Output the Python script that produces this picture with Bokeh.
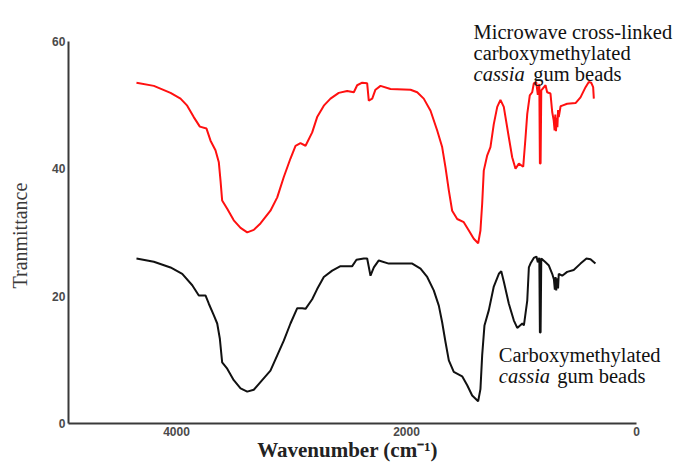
import math
from bokeh.plotting import figure
from bokeh.models import Range1d, Label, FixedTicker
from bokeh.embed import file_html
from bokeh.resources import INLINE

# ---- data ----
wn_red = [4348, 4197, 4052, 3965, 3907, 3850, 3797, 3739, 3704, 3661, 3632, 3617, 3603, 3559,
          3502, 3443, 3385, 3328, 3270, 3183, 3124, 3067, 3009, 2965, 2922, 2878, 2820, 2777,
          2719, 2661, 2589, 2516, 2458, 2429, 2385, 2342, 2328, 2298, 2270, 2226, 2139, 1965,
          1907, 1850, 1791, 1733, 1690, 1661, 1632, 1603, 1559, 1502, 1458, 1415, 1377, 1357,
          1342, 1328, 1298, 1270, 1241, 1211, 1183, 1154, 1110, 1081, 1052, 1023, 985, 965,
          950, 928, 907, 893, 872, 858, 845, 840, 834, 828, 791, 777, 748, 733, 720, 712,
          706, 700, 694, 688, 682, 676, 660, 646, 603, 530, 487, 443, 415, 394, 377, 371]
tr_red = [53.5, 53.0, 51.9, 51.0, 49.9, 48.1, 46.6, 46.3, 44.4, 42.9, 41.0, 38.1, 35.0, 33.7,
          31.9, 30.7, 30.0, 30.4, 31.4, 33.4, 35.5, 38.7, 41.6, 43.6, 44.0, 43.6, 45.7, 48.1,
          49.9, 51.0, 51.9, 52.2, 52.0, 53.1, 53.5, 53.4, 50.7, 51.0, 52.4, 53.0, 52.5, 52.4,
          52.0, 51.0, 49.1, 46.0, 43.4, 40.2, 36.6, 33.4, 32.1, 31.6, 30.3, 29.0, 28.3, 30.3,
          34.5, 39.7, 42.1, 43.4, 47.0, 49.7, 50.8, 49.7, 44.9, 41.8, 40.0, 40.8, 40.3, 44.9,
          48.6, 51.5, 52.0, 53.4, 53.6, 51.6, 53.3, 40.8, 40.8, 52.3, 53.1, 52.0, 51.8, 48.9,
          47.6, 46.0, 48.5, 45.9, 48.0, 46.5, 49.2, 48.1, 49.8, 49.9, 50.2, 50.3, 51.2, 52.8,
          53.6, 53.5, 52.8, 51.0]

wn_black = [4348, 4197, 4052, 3950, 3863, 3806, 3748, 3719, 3676, 3646, 3623, 3603, 3559, 3502,
            3443, 3385, 3328, 3270, 3183, 3124, 3067, 3009, 2950, 2907, 2878, 2820, 2777, 2719,
            2646, 2574, 2472, 2435, 2371, 2342, 2313, 2284, 2241, 2154, 1950, 1878, 1820, 1763,
            1719, 1690, 1661, 1632, 1589, 1516, 1472, 1429, 1377, 1357, 1342, 1322, 1284, 1241,
            1197, 1176, 1154, 1110, 1067, 1037, 993, 979, 950, 936, 922, 893, 870, 858,
            845, 840, 834, 828, 791, 762, 733, 718, 710, 704, 698, 690, 682, 676, 646, 603,
            546, 487, 435, 400, 357]
tr_black = [25.9, 25.4, 24.5, 23.5, 21.7, 20.1, 20.1, 18.8, 17.0, 15.7, 13.3, 9.6, 8.6, 6.8,
            5.5, 5.0, 5.3, 6.5, 8.3, 10.7, 13.0, 15.7, 18.1, 18.1, 18.0, 19.5, 21.1, 23.0,
            24.0, 24.7, 24.7, 25.7, 25.9, 25.9, 23.2, 24.5, 25.6, 25.1, 25.1, 24.3, 23.0, 20.9,
            18.5, 15.9, 12.8, 9.9, 8.1, 7.4, 6.0, 4.4, 3.5, 5.4, 10.7, 15.4, 17.8, 21.5,
            23.5, 23.9, 22.3, 18.8, 16.2, 15.0, 15.7, 15.4, 19.3, 24.5, 25.1, 26.0, 26.2, 25.3,
            26.0, 14.3, 14.3, 25.9, 25.3, 24.8, 23.5, 22.6, 21.0, 23.0, 20.9, 22.8, 21.2, 23.5,
            23.2, 23.8, 24.1, 25.1, 25.9, 25.8, 25.1]

x_ticks = [0, 2000, 4000]
y_ticks = [0, 20, 40, 60]
x_axis_bounds = (0, 4940)
y_axis_bounds = (0, 60)

# canvas geometry: axis spans px 68..636 horizontally (4940..0), py 423..41 vertically (0..60)
W, H = 675, 462
PX0, PXK = 636.0, 0.115      # px of x=0, px per unit
PY0, PYK = 423.0, 6.37       # py of y=0, px per unit
x_start = (PX0 - 0) / PXK
x_end = (PX0 - W) / PXK
y_start = (PY0 - H) / PYK
y_end = (PY0 - 0) / PYK

p = figure(width=W, height=H, output_backend="svg", toolbar_location=None,
           x_range=Range1d(x_start, x_end), y_range=Range1d(y_start, y_end),
           min_border=0, min_border_left=0, min_border_right=0,
           min_border_top=0, min_border_bottom=0)
p.title.visible = False
p.outline_line_color = None
p.xgrid.visible = False
p.ygrid.visible = False
p.background_fill_color = "white"
p.border_fill_color = "white"

for ax in (p.xaxis[0], p.yaxis[0]):
    ax.axis_line_color = "#3a3a3a"
    ax.axis_line_width = 2
    ax.major_tick_out = 0
    ax.major_tick_in = 0
    ax.minor_tick_out = 0
    ax.minor_tick_in = 0
    ax.major_label_text_font = "Liberation Sans"
    ax.major_label_text_font_size = "12px"
    ax.major_label_text_font_style = "bold"
    ax.major_label_text_color = "#4a4a4a"
    ax.major_label_standoff = 3
p.xaxis.ticker = FixedTicker(ticks=x_ticks)
p.yaxis.ticker = FixedTicker(ticks=y_ticks)
p.xaxis.bounds = x_axis_bounds
p.yaxis.bounds = y_axis_bounds
p.xaxis.fixed_location = 0
p.yaxis.fixed_location = x_axis_bounds[1]

p.line(wn_red, tr_red, line_color="#ff1010", line_width=2)
p.line(wn_black, tr_black, line_color="#111111", line_width=2)

serif = "Liberation Serif"
fs = "20.5px"

def lab(x, y, text, style="normal", size=fs, color="#111111", **kw):
    p.add_layout(Label(x=x, y=y, text=text, text_font=serif, text_font_size=size,
                       text_font_style=style, text_color=color,
                       text_align=kw.pop("align", "left"),
                       text_baseline=kw.pop("baseline", "alphabetic"), **kw))

# upper annotation
lab(1417, 61.5, "Microwave cross-linked")
lab(1417, 58.2, "carboxymethylated")
lab(1417, 54.8, "cassia", style="italic")
lab(898, 54.8, "gum beads")
# lower annotation
lab(1197, 10.7, "Carboxymethylated")
lab(1197, 7.5, "cassia", style="italic")
lab(690, 7.5, "gum beads")

# axis titles
lab(2513, -4.1, "Wavenumber (cm\u207b\u00b9)", style="bold", size="21px", color="#222222",
    align="center", baseline="middle")
lab(5357, 29.5, "Tranmittance", size="20px", color="#3a3a3a",
    align="center", baseline="middle", angle=math.pi / 2)

open("out.html", "w").write(file_html(p, INLINE))
